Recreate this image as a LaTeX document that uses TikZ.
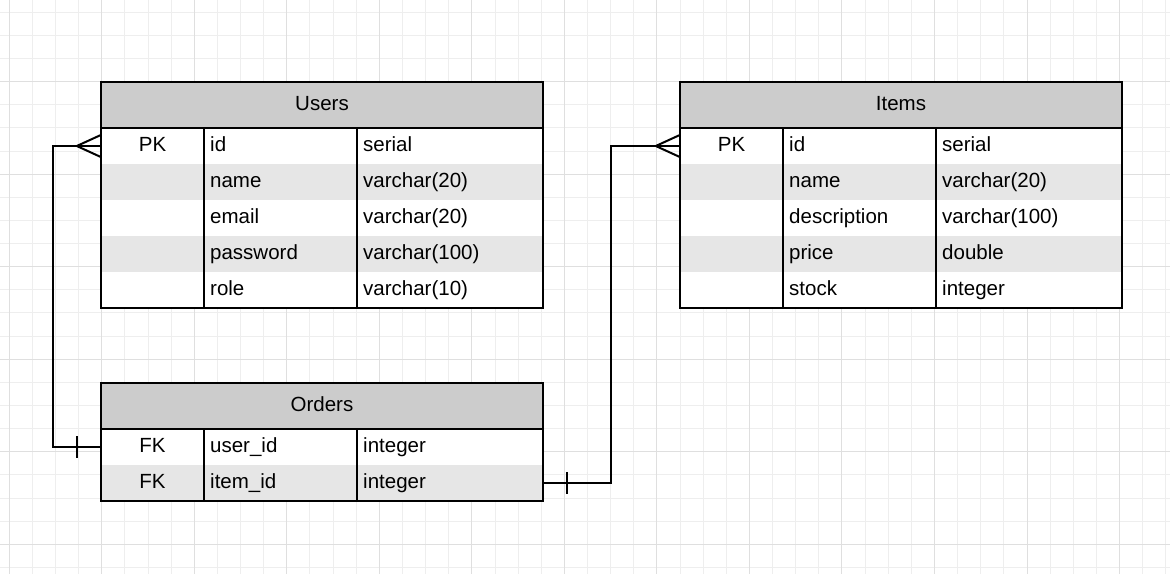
\documentclass[tikz,border=0pt]{standalone}
\usepackage{fontspec}
\setmainfont{Liberation Sans}
\usetikzlibrary{calc}
\definecolor{ink}{HTML}{000000}
\definecolor{hdrGray}{HTML}{CCCCCC}
\definecolor{rowGray}{HTML}{E6E6E6}
\definecolor{gridMinor}{HTML}{EEEEEE}
\definecolor{gridMajor}{HTML}{DFDFDF}
\newcommand{\tabfont}{\fontsize{20.5}{24}\selectfont}
\tikzset{
  hdr/.style={rectangle, fill=hdrGray, minimum width=442pt, minimum height=46pt, inner sep=0pt, font=\tabfont, text height=15pt, text depth=5pt},
  rowbox/.style={rectangle, minimum width=442pt, minimum height=36pt, inner sep=0pt},
  key/.style={font=\tabfont, inner sep=0pt, text height=15pt, text depth=5pt},
  fld/.style={key, anchor=west},
  edge/.style={draw=ink, line width=2.3pt},
  link/.style={draw=ink, line width=2pt},
}
\begin{document}
\begin{tikzpicture}[x=1pt, y=-1pt]
\useasboundingbox (0,0) rectangle (1170,574);
\fill[white] (0,0) rectangle (1170,574);
% background grid
\begin{scope}
\clip (0,0) rectangle (1170,574);
\foreach \k in {0,...,50} \draw[gridMinor, line width=1pt] ({9.3+23.13*\k},0) -- ++(0,574);
\foreach \k in {0,...,24} \draw[gridMinor, line width=1pt] (0,{12.3+23.13*\k}) -- ++(1170,0);
\foreach \k in {0,4,...,48} \draw[gridMajor, line width=1pt] ({9.3+23.13*\k},0) -- ++(0,574);
\foreach \k in {3,7,...,23} \draw[gridMajor, line width=1pt] (0,{12.3+23.13*\k}) -- ++(1170,0);
\end{scope}

% Users
\node[hdr] (users) at (322,105) {Users};
\foreach \k/\f/\t [count=\i] in {PK/id/serial, /name/varchar(20), /email/varchar(20), /password/varchar(100), /role/varchar(10)}{
  \ifodd\i \def\rowfill{white}\else \def\rowfill{rowGray}\fi
  \node[rowbox, fill=\rowfill] (u\i) at (322,{110+36*\i}) {};
  \node[key] at (152.5,{110+36*\i}) {\k};
  \node[fld] at (210,{110+36*\i}) {\f};
  \node[fld] at (363,{110+36*\i}) {\t};
}
\draw[edge] (users.north west) rectangle (u5.south east);
\draw[edge] (users.south west) -- (users.south east);
\draw[edge] ($(users.south west)+(103,0)$) -- ($(u5.south west)+(103,0)$);
\draw[edge] ($(users.south west)+(256,0)$) -- ($(u5.south west)+(256,0)$);

% Items
\node[hdr] (items) at (901,105) {Items};
\foreach \k/\f/\t [count=\i] in {PK/id/serial, /name/varchar(20), /description/varchar(100), /price/double, /stock/integer}{
  \ifodd\i \def\rowfill{white}\else \def\rowfill{rowGray}\fi
  \node[rowbox, fill=\rowfill] (i\i) at (901,{110+36*\i}) {};
  \node[key] at (731.5,{110+36*\i}) {\k};
  \node[fld] at (789,{110+36*\i}) {\f};
  \node[fld] at (942,{110+36*\i}) {\t};
}
\draw[edge] (items.north west) rectangle (i5.south east);
\draw[edge] (items.south west) -- (items.south east);
\draw[edge] ($(items.south west)+(103,0)$) -- ($(i5.south west)+(103,0)$);
\draw[edge] ($(items.south west)+(256,0)$) -- ($(i5.south west)+(256,0)$);

% Orders
\node[hdr] (orders) at (322,406) {Orders};
\foreach \k/\f/\t [count=\i] in {FK/user\_id/integer, FK/item\_id/integer}{
  \ifodd\i \def\rowfill{white}\else \def\rowfill{rowGray}\fi
  \node[rowbox, fill=\rowfill] (o\i) at (322,{411+36*\i}) {};
  \node[key] at (152.5,{411+36*\i}) {\k};
  \node[fld] at (210,{411+36*\i}) {\f};
  \node[fld] at (363,{411+36*\i}) {\t};
}
\draw[edge] (orders.north west) rectangle (o2.south east);
\draw[edge] (orders.south west) -- (orders.south east);
\draw[edge] ($(orders.south west)+(103,0)$) -- ($(o2.south west)+(103,0)$);
\draw[edge] ($(orders.south west)+(256,0)$) -- ($(o2.south west)+(256,0)$);

% relations
\coordinate (uFoot) at ($(u1.west)+(-24,0)$);
\coordinate (iFoot) at ($(i1.west)+(-24,0)$);
\draw[link] (u1.west) -- ++(-48,0) |- (o1.west);
\draw[link] ($(u1.west)+(0,-11)$) -- (uFoot) -- ($(u1.west)+(0,11)$);
\draw[link] ($(o1.west)+(-24,-11)$) -- ($(o1.west)+(-24,11)$);
\draw[link] (o2.east) -- ++(68,0) |- (i1.west);
\draw[link] ($(i1.west)+(0,-11)$) -- (iFoot) -- ($(i1.west)+(0,11)$);
\draw[link] ($(o2.east)+(24,-11)$) -- ($(o2.east)+(24,11)$);
\end{tikzpicture}
\end{document}
